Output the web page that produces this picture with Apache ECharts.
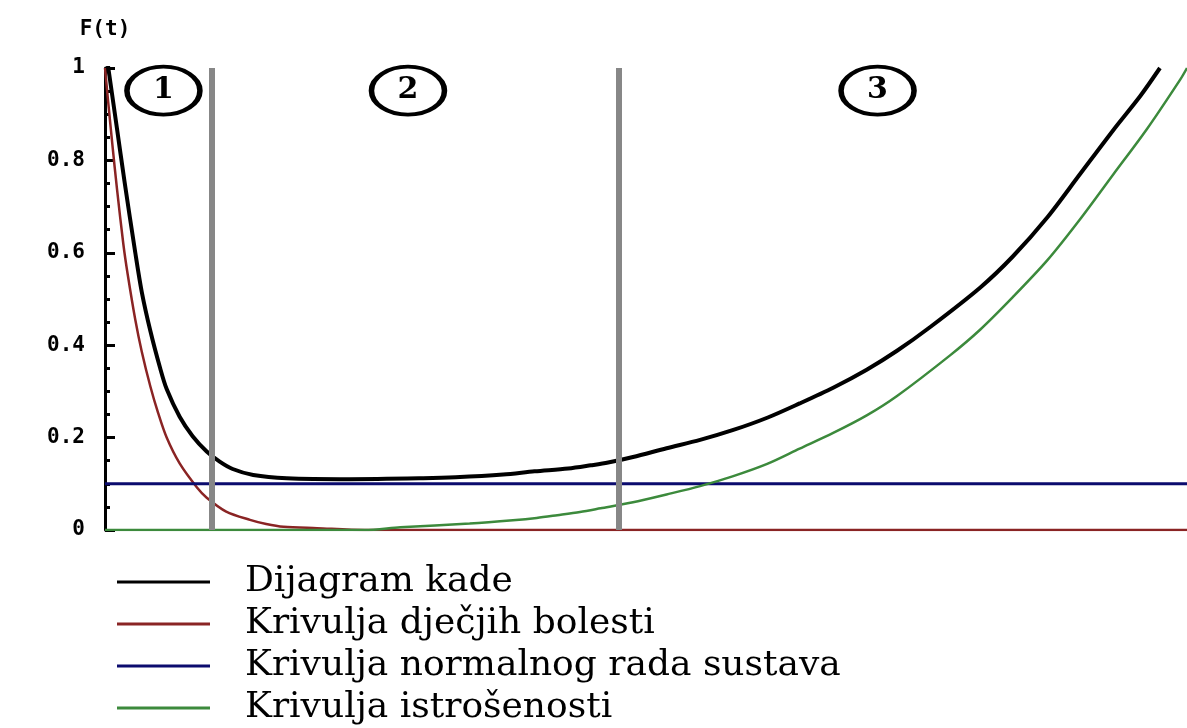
<!DOCTYPE html>
<html><head><meta charset="utf-8">
<script src="https://cdn.jsdelivr.net/npm/echarts@6/dist/echarts.min.js"></script>
<style>html,body{margin:0;padding:0;background:#fff}#c{width:1187px;height:728px}</style>
</head><body><div id="c"></div>
<script>
const seriesNames = ['Dijagram kade', 'Krivulja dječjih bolesti', 'Krivulja normalnog rada sustava', 'Krivulja istrošenosti'];
const yAxisName = 'F(t)';
const bathtub = [[0,1.05],[0.11,0.87],[0.18,0.755],[0.28,0.6],[0.34,0.515],[0.42,0.43],[0.51,0.35],[0.57,0.305],[0.69,0.245],[0.81,0.203],[0.94,0.170],[1.06,0.148],[1.18,0.132],[1.37,0.119],[1.68,0.112],[2.26,0.110],[2.94,0.112],[3.24,0.114],[3.68,0.120],[3.97,0.127],[4.28,0.133],[4.49,0.140],[4.65,0.146],[4.88,0.158],[5.19,0.177],[5.50,0.195],[5.80,0.216],[6.12,0.243],[6.42,0.274],[6.73,0.308],[7.04,0.347],[7.32,0.388],[7.63,0.440],[8.09,0.525],[8.39,0.592],[8.71,0.677],[9.01,0.770],[9.32,0.866],[9.57,0.940],[9.75,1.0]];
const infant = [[0,1.0],[0.03,0.925],[0.07,0.83],[0.11,0.74],[0.17,0.618],[0.21,0.553],[0.28,0.455],[0.34,0.386],[0.42,0.31],[0.49,0.254],[0.57,0.2],[0.69,0.144],[0.85,0.092],[0.94,0.070],[1.12,0.040],[1.34,0.022],[1.49,0.013],[1.65,0.007],[1.96,0.004],[2.40,0.0],[10,0.0]];
const normal = [[0,0.1],[10,0.1]];
const wearout = [[0,0],[2.40,0],[2.73,0.006],[3.37,0.014],[3.77,0.021],[3.99,0.026],[4.18,0.032],[4.39,0.039],[4.58,0.047],[4.88,0.060],[5.19,0.077],[5.50,0.095],[5.80,0.116],[6.12,0.143],[6.42,0.176],[6.73,0.210],[7.04,0.248],[7.32,0.290],[7.81,0.378],[8.09,0.434],[8.39,0.504],[8.71,0.584],[9.01,0.672],[9.32,0.770],[9.63,0.868],[9.94,0.976],[10,1.0]];
const regionBounds = [0.99, 4.75];
const regionLabels = ['1', '2', '3'];
const regionLabelPos = [[0.54, 0.951], [2.80, 0.951], [7.14, 0.951]];

const chart = echarts.init(document.getElementById('c'), null, {renderer: 'canvas'});
const monoFont = {fontFamily: 'DejaVu Sans Mono', fontSize: 21, fontWeight: 'bold', color: '#000'};
const option = {
  animation: false,
  backgroundColor: '#fff',
  grid: {left: 105, right: 0, top: 68, bottom: 198},
  xAxis: {type: 'value', min: 0, max: 10, axisLine: {show: false}, axisTick: {show: false}, axisLabel: {show: false}, splitLine: {show: false}},
  yAxis: {
    type: 'value', min: 0, max: 1, interval: 0.2,
    name: yAxisName, nameLocation: 'end', nameGap: 28, nameTextStyle: monoFont,
    axisLine: {show: true, lineStyle: {color: '#000', width: 3}},
    axisTick: {show: true, inside: true, length: 10, lineStyle: {color: '#000', width: 3}},
    minorTick: {show: true, splitNumber: 4, length: 5, lineStyle: {color: '#000', width: 3}},
    axisLabel: Object.assign({margin: 20}, monoFont),
    splitLine: {show: false}
  },
  legend: {
    orient: 'vertical', left: 117, top: 564, itemGap: 6, padding: 0, height: 400, width: 1000,
    icon: 'rect', itemWidth: 93, itemHeight: 3,
    data: seriesNames,
    textStyle: {fontFamily: 'DejaVu Serif', fontSize: 36, lineHeight: 34, color: '#000', padding: [0, 0, 0, 30]}
  },
  series: [
    {name: seriesNames[1], type: 'line', data: infant, showSymbol: false, smooth: 0.3, color: '#8a2424', lineStyle: {width: 2.5, color: '#8a2424'}, z: 2},
    {name: seriesNames[2], type: 'line', data: normal, showSymbol: false, color: '#0b0b6e', lineStyle: {width: 3, color: '#0b0b6e'}, z: 2},
    {name: seriesNames[3], type: 'line', data: wearout, showSymbol: false, smooth: 0.3, color: '#3c8a3c', lineStyle: {width: 2.5, color: '#3c8a3c'}, z: 3},
    {name: seriesNames[0], type: 'line', data: bathtub, showSymbol: false, smooth: 0.3, color: '#000', lineStyle: {width: 4, color: '#000'}, z: 4},
    {
      name: 'regions', type: 'line', data: [], z: 6, silent: true,
      markLine: {
        silent: true, symbol: ['none', 'none'], animation: false,
        lineStyle: {color: '#878787', width: 6, type: 'solid'},
        label: {show: false},
        data: regionBounds.map(x => ({xAxis: x}))
      },
      markPoint: {
        silent: true, animation: false,
        symbol: 'path://M0,1A1,1,0,1,0,2,1A1,1,0,1,0,0,1Z',
        symbolSize: [73, 48],
        itemStyle: {color: 'rgba(255,255,255,0)', borderColor: '#000', borderWidth: 4.5},
        label: {show: true, position: 'inside', fontFamily: 'DejaVu Serif', fontWeight: 'bold', fontSize: 30, color: '#000'},
        data: regionLabels.map((t, i) => ({coord: regionLabelPos[i], value: t}))
      }
    }
  ]
};
chart.setOption(option);
</script></body></html>
